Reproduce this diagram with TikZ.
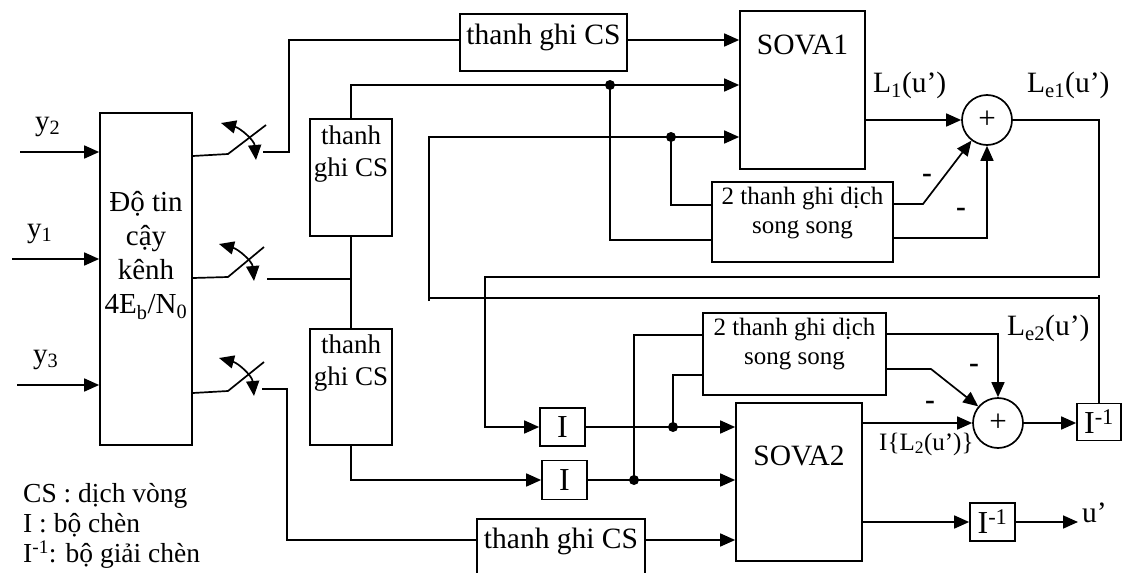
\documentclass[tikz,border=0pt]{standalone}
\usepackage{fontspec}
\setmainfont{Liberation Serif}
\usetikzlibrary{arrows.meta}
\newcommand\fMain{\fontsize{29}{34}\selectfont}
\newcommand\fBox{\fontsize{29.5}{33}\selectfont}
\newcommand\fVcs{\fontsize{27}{32}\selectfont}
\newcommand\fReg{\fontsize{25}{28.5}\selectfont}
\newcommand\fLeg{\fontsize{27.5}{30}\selectfont}
\newcommand\fIbox{\fontsize{32}{36}\selectfont}
\begin{document}
\begin{tikzpicture}[x=1pt,y=-1pt,
 lw/.style={line width=1.7pt},
 box/.style={draw,lw,rectangle,inner sep=0pt},
 sig/.style={lw},
 arr/.style={lw,-{Triangle[length=15pt,width=13pt]}},
 swarr/.style={lw,{Triangle[length=15pt,width=13pt]}-{Triangle[length=15pt,width=13pt]}},
 jdot/.style={circle,fill,inner sep=0pt,minimum size=10pt},
 sumnode/.style={draw,lw,circle,minimum size=50pt,inner sep=0pt,font=\fontsize{31}{34}\selectfont},
 intext/.style={anchor=north,align=center,inner sep=0pt},
 txt/.style={inner sep=0pt,font=\fBox},
 minus/.style={inner sep=0pt,font=\fBox\bfseries}
]
\fill[white] (0,0) rectangle (1128,573);
\useasboundingbox (0,0) rectangle (1128,573);

% ---------- blocks ----------
\node[box,minimum width=92pt,minimum height=332pt,
  label={[intext,yshift=-79pt,font=\fMain]north:Độ tin\\cậy\\kênh\\4E\textsubscript{b}/N\textsubscript{0}}] (main) at (146,279) {};
\node[box,minimum width=167pt,minimum height=57pt,
  label={[intext,yshift=-11pt,font=\fBox]north:thanh ghi CS}] (cs1) at (543.5,42.5) {};
\node[box,minimum width=82pt,minimum height=117pt,
  label={[intext,yshift=-7pt,font=\fVcs]north:thanh\\ghi CS}] (vcs1) at (351,177.5) {};
\node[box,minimum width=82pt,minimum height=116pt,
  label={[intext,yshift=-6pt,font=\fVcs]north:thanh\\ghi CS}] (vcs2) at (351,387) {};
\node[box,minimum width=168pt,minimum height=59pt,
  label={[intext,yshift=-10pt,font=\fBox]north:thanh ghi CS}] (cs3) at (561,548.5) {};
\node[box,minimum width=125pt,minimum height=158pt,
  label={[intext,yshift=-25pt,font=\fBox]north:SOVA1}] (sova1) at (802.5,90) {};
\node[box,minimum width=126pt,minimum height=158pt,
  label={[intext,yshift=-44pt,font=\fBox]north:SOVA2}] (sova2) at (799,482) {};
\node[box,minimum width=181pt,minimum height=80pt,
  label={[intext,yshift=-6pt,font=\fReg]north:2 thanh ghi dịch\\song song}] (reg1) at (802.5,222) {};
\node[box,minimum width=183pt,minimum height=82pt,
  label={[intext,yshift=-6pt,font=\fReg]north:2 thanh ghi dịch\\song song}] (reg2) at (794.5,354) {};
\node[sumnode] (sum1) at (987,120) {+};
\node[sumnode] (sum2) at (998,423) {+};
\node[box,minimum width=45pt,minimum height=38pt,font=\fIbox] (I1) at (562.5,427) {I};
\node[box,minimum width=45pt,minimum height=39pt,font=\fIbox] (I2) at (564.5,480) {I};
\node[box,minimum width=44pt,minimum height=37pt,font=\fIbox] (Iinv1) at (1099,422) {I\textsuperscript{-1}};
\node[box,minimum width=45pt,minimum height=38pt,font=\fIbox] (Iinv2) at (992.5,522) {I\textsuperscript{-1}};

% ---------- inputs ----------
\coordinate (in2) at (20,152);
\coordinate (in1) at (12,259);
\coordinate (in3) at (17,385);
\draw[arr] (in2) -- (in2 -| main.west);
\draw[arr] (in1) -- (in1 -| main.west);
\draw[arr] (in3) -- (in3 -| main.west);
\node[txt,anchor=base west,font=\fMain] at (35,130) {y\textsubscript{2}};
\node[txt,anchor=base west,font=\fMain] at (27,237) {y\textsubscript{1}};
\node[txt,anchor=base west,font=\fMain] at (33,363) {y\textsubscript{3}};

% ---------- switches ----------
\coordinate (sw1a) at (228,154); \coordinate (sw1b) at (266,125); \coordinate (sw1c) at (263,152);
\draw[sig] (main.east |- 0,156) -- (sw1a) -- (sw1b);
\draw[swarr] (221,123) to[out=-15,in=95] (256,160);
\draw[sig] (sw1c) -- (289,152) -- (289,40) -- (cs1.west |- 0,40);

\coordinate (sw2a) at (228,277); \coordinate (sw2b) at (264,247); \coordinate (sw2c) at (267,279);
\draw[sig] (main.east |- 0,278) -- (sw2a) -- (sw2b);
\draw[swarr] (219,244) to[out=-15,in=95] (254,281);
\draw[sig] (sw2c) -- (sw2c -| vcs1.south);

\coordinate (sw3a) at (228,391); \coordinate (sw3b) at (264,362); \coordinate (sw3c) at (262,389);
\draw[sig] (main.east |- 0,393) -- (sw3a) -- (sw3b);
\draw[swarr] (219,358) to[out=-15,in=95] (254,396);
\draw[sig] (sw3c) -- (287,389) -- (287,540) -- (cs3.west |- 0,540);

% ---------- upper decoder ----------
\draw[arr] (cs1.east |- 0,40) -- (sova1.west |- 0,40);
\draw[arr] (vcs1.north) -- (vcs1.north |- 0,85) -- (sova1.west |- 0,85);
\draw[sig] (vcs1.south) -- (vcs2.north);
\node[jdot] (d1) at (610,85) {};
\draw[sig] (d1.center) -- (610,240) -- (reg1.west |- 0,240);
\coordinate (f1) at (429,301);
\draw[arr] (f1) -- (429,137) -- (sova1.west |- 0,137);
\node[jdot] (d2) at (671,137) {};
\draw[sig] (d2.center) -- (671,205) -- (reg1.west |- 0,205);
\draw[arr] (sova1.east |- sum1.west) -- (sum1.west);
\draw[arr] (reg1.east |- 0,204) -- (923,204) -- (sum1.233);
\draw[arr] (reg1.east |- 0,238) -- (sum1.south |- 0,238) -- (sum1.south);
\node[txt,anchor=base west] at (873,92) {L\textsubscript{1}(u’)};
\node[txt,anchor=base west] at (1027,92) {L\textsubscript{e1}(u’)};
\node[minus] at (927,178) {-};
\node[minus] at (961,212) {-};

% ---------- feedback ----------
\draw[arr] (sum1.east) -- (1099,120) -- (1099,277) -- (485,277) -- (485,427) -- (I1.west);
\draw[sig] (Iinv1.north) -- (Iinv1.north |- 0,295);
\draw[sig] (429,298) -- (Iinv1.north |- 0,298);

% ---------- lower decoder ----------
\draw[arr] (I1.east) -- (I1.east -| sova2.west);
\node[jdot] (d3) at (673,427) {};
\draw[sig] (d3.center) -- (673,375) -- (reg2.west |- 0,375);
\draw[arr] (vcs2.south) -- (vcs2.south |- I2.west) -- (I2.west);
\draw[arr] (I2.east) -- (I2.east -| sova2.west);
\node[jdot] (d4) at (634,480) {};
\draw[sig] (d4.center) -- (634,335) -- (reg2.west |- 0,335);
\draw[arr] (cs3.east |- 0,540) -- (sova2.west |- 0,540);
\draw[arr] (sova2.east |- sum2.west) -- (sum2.west);
\draw[arr] (reg2.east |- 0,334) -- (sum2.north |- 0,334) -- (sum2.north);
\draw[arr] (reg2.east |- 0,369) -- (931,369) -- (sum2.140);
\draw[arr] (sum2.east) -- (sum2.east -| Iinv1.west);
\draw[arr] (sova2.east |- Iinv2.west) -- (Iinv2.west);
\coordinate (uout) at (1078,522);
\draw[arr] (Iinv2.east) -- (uout);
\node[txt,anchor=base west] at (1082,522) {u’};
\node[txt,anchor=base west] at (1007,335) {L\textsubscript{e2}(u’)};
\node[txt,anchor=base west,font=\fReg] at (879,450) {I\{L\textsubscript{2}(u’)\}};
\node[minus] at (974,368) {-};
\node[minus] at (930,405) {-};

% ---------- legend ----------
\node[txt,anchor=north west,align=left,font=\fLeg] at (23,483) {CS : dịch vòng\\I : bộ chèn\\I\textsuperscript{-1}: bộ giải chèn};
\end{tikzpicture}
\end{document}
